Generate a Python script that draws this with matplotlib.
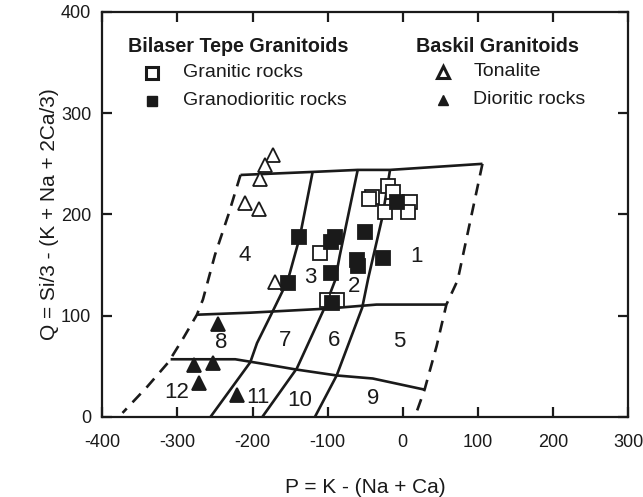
import matplotlib
matplotlib.use("Agg")
import matplotlib.pyplot as plt
import numpy as np

plt.rcParams["font.family"] = ["Liberation Sans", "DejaVu Sans"]
plt.rcParams["axes.unicode_minus"] = False

INK = "#1a1a1a"

# sample compositions (P, Q)
granitic_p = [-20, -13, -41, -45, 9, -24, 7, -110, -101, -88]
granitic_q = [228, 222, 217, 215, 212, 202, 202, 162, 116, 116]

granodioritic_p = [-138, -90, -96, -153, -96, -61, -60, -50, -27, -8, -94]
granodioritic_q = [178, 178, 173, 132, 142, 155, 149, 183, 157, 212, 113]

tonalite_p = [-173, -183, -190, -210, -191, -170]
tonalite_q = [259, 249, 235, 211, 205, 133]

dioritic_p = [-246, -278, -252, -271, -220]
dioritic_q = [92, 51, 53, 34, 22]

# field boundaries of the P-Q grid
top_p = [-216, -120, -60, -17, 106]
top_q = [239, 242, 244, 244, 250]

left_p = [-216, -232, -250, -266, -274, -292, -312, -340, -373]
left_q = [239, 200, 160, 116, 101, 78, 54, 30, 4]

right_p = [106, 73, 58, 45, 29, 16]
right_q = [250, 135, 111, 70, 27, 0]

mid_p = [-274, -203, -101, -35, 58]
mid_q = [101, 103, 107, 111, 111]

low_p = [-309, -223, -190, -143, -88, -40, 29]
low_q = [57, 57, 53, 47, 41, 38, 27]

curve1_p = [-120, -137, -153, -174, -194, -203, -256]
curve1_q = [242, 178, 135, 103, 73, 54, 0]

curve2_p = [-60, -84, -90, -104, -141, -187]
curve2_q = [244, 159, 135, 108, 48, 0]

curve3_p = [-17, -27, -46, -54, -88, -117]
curve3_q = [244, 198, 137, 108, 41, 0]

field_labels = ["1", "2", "3", "4", "5", "6", "7", "8", "9", "10", "11", "12"]
field_p = [18, -65, -123, -210, -5, -92, -157, -242, -40, -137, -193, -301]
field_q = [158, 129, 138, 159, 75, 76, 76, 74, 18, 16, 19, 24]

fig = plt.figure(figsize=(6.43, 4.97), dpi=100)
ax = fig.add_axes([0.159, 0.161, 0.818, 0.815])

solid = dict(color=INK, lw=1.9, solid_capstyle="butt", zorder=2)
dashed = dict(color=INK, lw=1.9, ls=(0, (4.5, 3.2)), zorder=2)

ax.plot(top_p, top_q, **solid)
ax.plot(mid_p, mid_q, **solid)
ax.plot(low_p, low_q, **solid)
for cp, cq in [(curve1_p, curve1_q), (curve2_p, curve2_q), (curve3_p, curve3_q)]:
    ax.plot(cp, cq, **solid)
ax.plot(left_p, left_q, **dashed)
ax.plot(right_p, right_q, **dashed)

for lab, px, qy in zip(field_labels, field_p, field_q):
    ax.text(px, qy, lab, fontsize=16, ha="center", va="center", color=INK)

mk = dict(ls="none", ms=9.5, mec=INK, mew=1.3, zorder=3)
ax.plot(granitic_p, granitic_q, "s", mfc="white", **mk)
ax.plot(granodioritic_p, granodioritic_q, "s", mfc=INK, **mk)
ax.plot(tonalite_p, tonalite_q, "^", mfc="white", **mk)
ax.plot(dioritic_p, dioritic_q, "^", mfc=INK, **mk)

# legend block, placed in pixel-like positions inside the axes
tr = ax.transAxes
def ax_xy(px, py):
    return ((px - 102) / 526, (417 - py) / 405)

x0, y0 = ax_xy(128, 47)
ax.text(x0, y0, "Bilaser Tepe Granitoids", transform=tr, fontsize=14.2,
        fontweight="bold", va="center", ha="left", color=INK)
x0, y0 = ax_xy(416, 47)
ax.text(x0, y0, "Baskil Granitoids", transform=tr, fontsize=14.2,
        fontweight="bold", va="center", ha="left", color=INK)

entries = [
    (152, 73, 183, "s", "white", "Granitic rocks"),
    (152, 101, 183, "s", INK, "Granodioritic rocks"),
    (443, 72, 473, "^", "white", "Tonalite"),
    (443, 100, 473, "^", INK, "Dioritic rocks"),
]
for px, py, lx, m, fc, label in entries:
    mx, my = ax_xy(px, py)
    ax.plot([mx], [my], m, transform=tr, ms=9 if fc == "white" else 7,
            mfc=fc, mec=INK, mew=2.2 if fc == "white" else 1, clip_on=False)
    tx, ty = ax_xy(lx, py)
    ax.text(tx, ty, label, transform=tr, fontsize=14, va="center",
            ha="left", color=INK)

ax.set_xlim(-400, 300)
ax.set_ylim(0, 400)
ax.set_xticks(np.arange(-400, 301, 100))
ax.set_yticks(np.arange(0, 401, 100))
ax.tick_params(direction="in", length=7, width=1.6, top=True, right=True,
               labelsize=13, colors=INK)
ax.tick_params(axis="x", pad=12)
ax.tick_params(axis="y", pad=8)
for s in ax.spines.values():
    s.set_linewidth(1.6)
    s.set_color(INK)

ax.set_xlabel("P = K - (Na + Ca)", fontsize=15, color=INK, labelpad=20)
ax.set_ylabel("Q = Si/3 - (K + Na + 2Ca/3)", fontsize=15, color=INK, labelpad=1)

fig.savefig("out.png", dpi=100)
